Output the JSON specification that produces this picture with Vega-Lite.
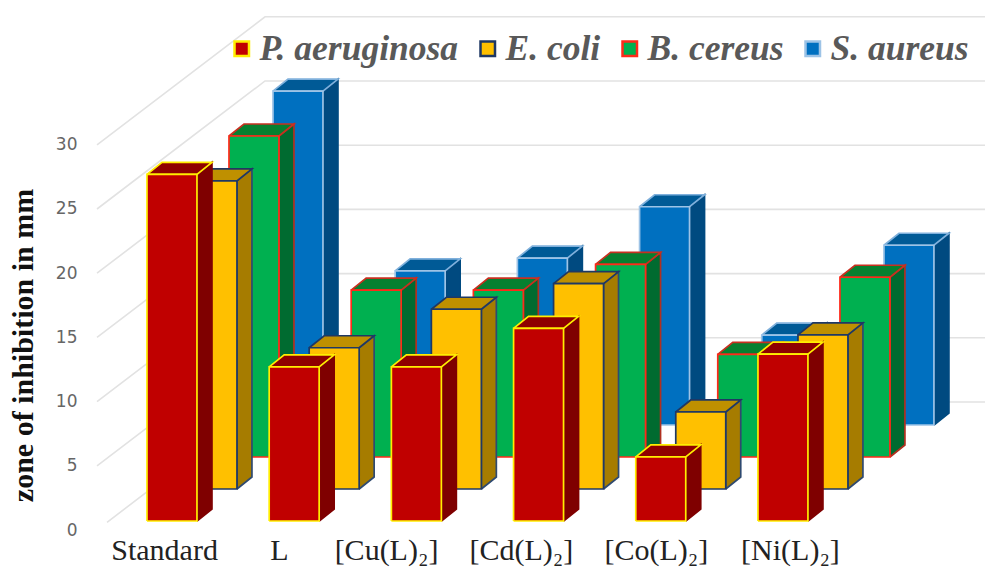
{
"$schema":"https://vega.github.io/schema/vega-lite/v6.json",
"width":985,"height":530,"autosize":"none","padding":{"left":0,"top":0,"right":0,"bottom":37},
"background":"white",
"config":{"view":{"stroke":null}},
"datasets":{
"bars":[
{"category":"Standard","series":"S. aureus","value":26},{"category":"L","series":"S. aureus","value":12},{"category":"[Cu(L)₂]","series":"S. aureus","value":13},{"category":"[Cd(L)₂]","series":"S. aureus","value":17},{"category":"[Co(L)₂]","series":"S. aureus","value":7},{"category":"[Ni(L)₂]","series":"S. aureus","value":14},
{"category":"Standard","series":"B. cereus","value":25},{"category":"L","series":"B. cereus","value":13},{"category":"[Cu(L)₂]","series":"B. cereus","value":13},{"category":"[Cd(L)₂]","series":"B. cereus","value":15},{"category":"[Co(L)₂]","series":"B. cereus","value":8},{"category":"[Ni(L)₂]","series":"B. cereus","value":14},
{"category":"Standard","series":"E. coli","value":24},{"category":"L","series":"E. coli","value":11},{"category":"[Cu(L)₂]","series":"E. coli","value":14},{"category":"[Cd(L)₂]","series":"E. coli","value":16},{"category":"[Co(L)₂]","series":"E. coli","value":6},{"category":"[Ni(L)₂]","series":"E. coli","value":12},
{"category":"Standard","series":"P. aeruginosa","value":27},{"category":"L","series":"P. aeruginosa","value":12},{"category":"[Cu(L)₂]","series":"P. aeruginosa","value":12},{"category":"[Cd(L)₂]","series":"P. aeruginosa","value":15},{"category":"[Co(L)₂]","series":"P. aeruginosa","value":5},{"category":"[Ni(L)₂]","series":"P. aeruginosa","value":13}
],
"ticks":[{"tick":0},{"tick":5},{"tick":10},{"tick":15},{"tick":20},{"tick":25},{"tick":30}]
},
"layer":[
{"data":{"name":"ticks"},
 "transform":[
  {"calculate":"[0,1,2]","as":"pt"},{"flatten":["pt"]},
  {"calculate":"datum.pt==0?(datum.tick==0?-0.327:-0.409):datum.pt==1?0.966:6.858","as":"gx"},
  {"calculate":"datum.tick+(datum.pt==0?(datum.tick==0?0.6:0):9.97)","as":"gy"}
 ],
 "mark":{"type":"line","stroke":"#E2E2E2","strokeWidth":1.6,"clip":false},
 "encoding":{
  "x":{"field":"gx","type":"quantitative","scale":{"domain":[-1.2029,6.858],"nice":false,"zero":false},
   "axis":{"title":null,"grid":false,"domain":false,"ticks":false,"values":[0.14,1.08,1.956,3.06,4.165,5.262],
    "labelExpr":"datum.value<0.5?'Standard':datum.value<1.5?'L':datum.value<2.5?'[Cu(L)₂]':datum.value<3.5?'[Cd(L)₂]':datum.value<4.6?'[Co(L)₂]':'[Ni(L)₂]'",
    "labelFont":"Liberation Serif","labelFontSize":30,"labelColor":"#222222","labelPadding":5,"labelOverlap":false,"labelFlush":false,"labelBound":false,"labelAlign":"center"}},
  "y":{"field":"gy","type":"quantitative","scale":{"domain":[0,41.277],"nice":false,"zero":false},
   "axis":{"title":"zone of inhibition in mm","grid":false,"domain":false,"ticks":false,"values":[0,5,10,15,20,25,30],"offset":-77,"labelPadding":0,
    "labelFont":"DejaVu Sans","labelFontSize":17,"labelColor":"#666666",
    "titleFont":"Liberation Serif","titleFontSize":30,"titleFontWeight":"bold","titleColor":"#111111","titleX":-39,"titleY":345,"titleAngle":-90,"titleAlign":"center","titleBaseline":"bottom"}},
  "detail":{"field":"tick"},
  "order":{"field":"pt"}
 }},
{"data":{"name":"bars"},
 "transform":[
  {"calculate":"indexof(['Standard','L','[Cu(L)₂]','[Cd(L)₂]','[Co(L)₂]','[Ni(L)₂]'],datum.category)","as":"c"},
  {"calculate":"indexof(['P. aeruginosa','E. coli','B. cereus','S. aureus'],datum.series)","as":"s"},
  {"calculate":"[0,1,2]","as":"face"},{"flatten":["face"]},
  {"calculate":"[0,1,2,3,4]","as":"vtx"},{"flatten":["vtx"]},
  {"calculate":"datum.series+['|side','|top',''][datum.face]","as":"key"},
  {"calculate":"datum.c+[0,40,82,126][datum.s]/122.2+[[0.409,0.5317,0.5317,0.409,0.409],[0,0.409,0.5317,0.1227,0],[0,0.409,0.409,0,0]][datum.face][datum.vtx]","as":"px"},
  {"calculate":"0.7+2.492*datum.s+[[0,0.935,datum.value+0.935,datum.value,0],[datum.value,datum.value,datum.value+0.935,datum.value+0.935,datum.value],[0,0,datum.value,datum.value,0]][datum.face][datum.vtx]","as":"py"}
 ],
 "mark":{"type":"line","strokeWidth":1.7,"strokeJoin":"miter","clip":false},
 "encoding":{
  "x":{"field":"px","type":"quantitative"},
  "y":{"field":"py","type":"quantitative"},
  "detail":[{"field":"category"},{"field":"face"}],
  "order":{"field":"vtx"},
  "fill":{"field":"key","type":"nominal",
   "scale":{"domain":["P. aeruginosa","E. coli","B. cereus","S. aureus","P. aeruginosa|side","E. coli|side","B. cereus|side","S. aureus|side","P. aeruginosa|top","E. coli|top","B. cereus|top","S. aureus|top"],
    "range":["#C00000","#FFC000","#00B050","#0070C0","#7F0000","#A67C00","#006B30","#004A80","#8F0000","#BF9000","#068030","#005A96"]},
   "legend":{"title":null,"values":["P. aeruginosa","E. coli","B. cereus","S. aureus"],"orient":"none","legendX":224,"legendY":31,"direction":"horizontal","columns":4,"gridAlign":"none","symbolType":"square","symbolSize":210,"symbolStrokeWidth":2.5,"labelFont":"Liberation Serif","labelFontSize":35.5,"labelFontStyle":"italic","labelFontWeight":"bold","labelColor":"#595959","labelOffset":0,"columnPadding":11,"labelLimit":400}},
  "stroke":{"field":"key","type":"nominal",
   "scale":{"domain":["P. aeruginosa","E. coli","B. cereus","S. aureus","P. aeruginosa|side","E. coli|side","B. cereus|side","S. aureus|side","P. aeruginosa|top","E. coli|top","B. cereus|top","S. aureus|top"],
    "range":["#FFEE00","#1F3864","#FF2A1A","#9DC3E6","#7F0000","#2F4A70","#B03020","#004A80","#FFEE00","#1F3864","#C83020","#7FB0DC"]},
   "legend":{"values":["P. aeruginosa","E. coli","B. cereus","S. aureus"]}}
 }}
]
}
